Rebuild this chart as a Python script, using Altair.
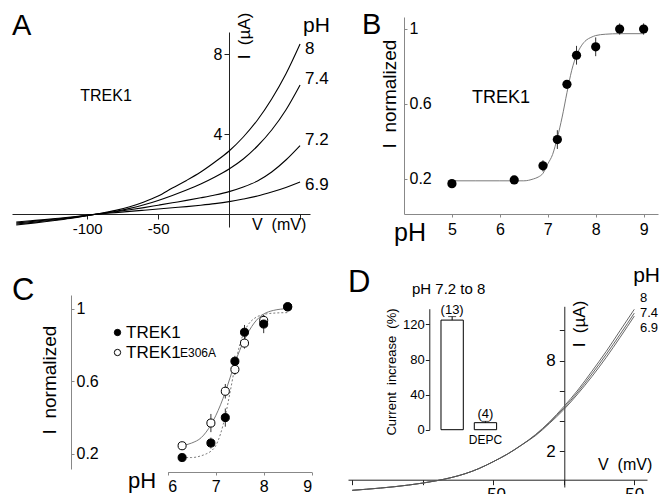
import altair as alt
import pandas as pd

FONT = "Liberation Sans"
W, H = 653, 486
DY = 3  # small upward shift so the bottom labels stay inside the page
NB = "\u00a0"

# ---------------- data ----------------
# Panel A : I-V curves of TREK1 at four external pH values
A_V = [-150, -140, -130, -120, -110, -100, -90, -80, -70, -60, -50,
       -40, -30, -20, -10, 0, 10, 20, 30, 40, 50]
A_I_8 = [-0.55, -0.47, -0.39, -0.30, -0.20, -0.08, 0.04, 0.18, 0.36, 0.60, 0.90,
         1.30, 1.68, 2.10, 2.60, 3.15, 3.85, 4.70, 5.75, 7.00, 8.50]
A_I_74 = [-0.50, -0.43, -0.35, -0.27, -0.18, -0.07, 0.03, 0.14, 0.28, 0.46, 0.68,
          0.93, 1.20, 1.50, 1.85, 2.25, 2.75, 3.40, 4.20, 5.20, 6.45]
A_I_72 = [-0.45, -0.38, -0.31, -0.24, -0.16, -0.07, 0.02, 0.11, 0.21, 0.32, 0.44,
          0.56, 0.68, 0.81, 0.95, 1.12, 1.35, 1.65, 2.10, 2.70, 3.42]
A_I_69 = [-0.40, -0.34, -0.28, -0.21, -0.14, -0.06, 0.01, 0.07, 0.13, 0.19, 0.25,
          0.31, 0.37, 0.44, 0.52, 0.62, 0.75, 0.90, 1.10, 1.33, 1.60]
A_labels = ["8", "7.4", "7.2", "6.9"]

# Panel B : normalized current vs pH
B_pH = [5.0, 6.3, 6.9, 7.2, 7.4, 7.6, 8.0, 8.5, 9.0]
B_I = [0.175, 0.195, 0.27, 0.41, 0.705, 0.86, 0.905, 1.0, 1.0]
B_err = [0.01, 0.01, 0.03, 0.05, 0.02, 0.05, 0.05, 0.03, 0.03]
B_fit_pH = [5.0, 5.5, 6.0, 6.3, 6.5, 6.7, 6.8, 6.9, 7.0, 7.1, 7.2, 7.3, 7.4,
            7.5, 7.6, 7.7, 7.8, 7.9, 8.0, 8.2, 8.5, 9.0]
B_fit_I = [0.19, 0.19, 0.19, 0.19, 0.19, 0.20, 0.21, 0.23, 0.28, 0.33, 0.42, 0.53,
           0.66, 0.78, 0.86, 0.91, 0.94, 0.955, 0.965, 0.972, 0.975, 0.975]

# Panel C : TREK1 vs TREK1 E306A
C_pH = [6.3, 6.9, 7.2, 7.4, 7.6, 8.0, 8.5]
C_wt = [0.18, 0.26, 0.40, 0.71, 0.87, 0.915, 1.01]
C_wt_err = [0.02, 0.03, 0.05, 0.03, 0.04, 0.05, 0.02]
C_mut = [0.245, 0.37, 0.545, 0.665, 0.81, 0.935, 1.01]
C_mut_err = [0.02, 0.05, 0.04, 0.03, 0.03, 0.03, 0.02]
C_fit_pH = [6.3, 6.5, 6.7, 6.8, 6.9, 7.0, 7.1, 7.2, 7.3, 7.4, 7.5, 7.6, 7.7,
            7.8, 7.9, 8.0, 8.2, 8.5]
C_fit_mut = [0.245, 0.26, 0.29, 0.32, 0.36, 0.41, 0.47, 0.54, 0.62, 0.70, 0.77,
             0.83, 0.88, 0.92, 0.95, 0.97, 0.99, 1.0]
C_fit_wt = [0.18, 0.18, 0.19, 0.20, 0.215, 0.245, 0.31, 0.41, 0.54, 0.68, 0.80,
            0.875, 0.92, 0.945, 0.96, 0.968, 0.975, 0.978]
C_series = ["TREK1", "TREK1E306A"]

# Panel D : E306A I-V curves
D_V = A_V
D_I_8 = [-0.60, -0.53, -0.45, -0.36, -0.25, -0.12, 0.04, 0.24, 0.50, 0.85, 1.30,
         1.80, 2.40, 3.10, 3.95, 4.95, 6.05, 7.30, 8.60, 10.00, 11.40]
D_I_74 = [-0.60, -0.53, -0.45, -0.36, -0.25, -0.12, 0.04, 0.24, 0.50, 0.85, 1.30,
          1.80, 2.40, 3.07, 3.90, 4.85, 5.92, 7.12, 8.40, 9.75, 11.15]
D_I_69 = [-0.60, -0.53, -0.45, -0.36, -0.25, -0.12, 0.04, 0.24, 0.50, 0.85, 1.30,
          1.80, 2.40, 3.03, 3.85, 4.75, 5.80, 6.95, 8.20, 9.55, 10.95]
D_labels = ["8", "7.4", "6.9"]

# Panel D inset : current increase pH 7.2 -> 8
IN_cat = ["control", "DEPC"]
IN_val = [125, 8]
IN_err = [4, 1.5]
IN_n = ["(13)", "(4)"]


# ---------------- helpers ----------------
def long_df(xs, series, xname, yname):
    rows = []
    for key, ys in series.items():
        for x, y in zip(xs, ys):
            rows.append({xname: x, yname: y, "s": key})
    return pd.DataFrame(rows)


def sc(domain, rng):
    return alt.Scale(domain=domain, range=rng, nice=False, zero=False)


def yr(a, b):
    return [a - DY, b - DY]


def ax(orient, offset, values, color="#222", **kw):
    base = dict(orient=orient, offset=offset, values=values, title=None, grid=False,
                labelFont=FONT, labelColor="black", tickColor=color, domainColor=color,
                labelFontSize=15, tickSize=5, labelPadding=2, domainWidth=1, tickWidth=1,
                labelOverlap=False)
    base.update(kw)
    return alt.Axis(**base)


def bottom_off(y):
    return (y - DY) - H


one = pd.DataFrame({"k": [0]})


def txt(s, x, y, size, align="left", baseline="alphabetic", angle=0):
    return alt.Chart(one).mark_text(
        text=s, fontSize=size, align=align, baseline=baseline, angle=angle,
        font=FONT, color="black"
    ).encode(x=alt.value(x), y=alt.value(y - DY))


NUM = "'' + datum.value"

# ---------------- panel A ----------------
dfA = long_df(A_V, dict(zip(A_labels, [A_I_8, A_I_74, A_I_72, A_I_69])), "V", "I")
xA = alt.X("V:Q", scale=sc([-153, 57], [4, 302]),
           axis=ax("bottom", bottom_off(209), [-100, -50, 50],
                   labelExpr="datum.value == 50 ? '' : '' + datum.value"))
yA = alt.Y("I:Q", scale=sc([-0.65, 9.1], yr(222, 27)),
           axis=ax("left", -221, [4, 8], labelFontSize=16))
panelA = alt.Chart(dfA).mark_line(color="black", strokeWidth=1.1,
                                  interpolate="monotone").encode(x=xA, y=yA, detail="s:N")

# ---------------- panel B ----------------
dfB = pd.DataFrame({"pH": B_pH, "I": B_I, "lo": [v - e for v, e in zip(B_I, B_err)],
                    "hi": [v + e for v, e in zip(B_I, B_err)]})
dfBfit = pd.DataFrame({"pH": B_fit_pH, "I": B_fit_I})
xB = alt.X("pH:Q", scale=sc([4.0, 9.3], [396, 650]),
           axis=ax("bottom", bottom_off(209), [5, 6, 7, 8, 9], color="#888", tickSize=3,
                   labelPadding=4, labelFontSize=16, labelExpr=NUM))
yB = alt.Y("I:Q", scale=sc([0.013, 1.064], yr(209, 12)),
           axis=ax("right", 396 - W, [0.2, 0.6, 1], color="#888", tickSize=3,
                   labelPadding=2, labelFontSize=16, labelExpr=NUM))
B_line = alt.Chart(dfBfit).mark_line(color="#7a7a7a", strokeWidth=1,
                                     interpolate="monotone").encode(x=xB, y=yB)
B_err_l = alt.Chart(dfB).mark_rule(color="#333", strokeWidth=1).encode(
    x="pH:Q", y="lo:Q", y2="hi:Q")
B_pts = alt.Chart(dfB).mark_circle(size=85, color="black", opacity=1).encode(x="pH:Q", y="I:Q")
panelB = alt.layer(B_line, B_err_l, B_pts)

# ---------------- panel C ----------------
rowsC = []
for ser, vals, errs in [(C_series[1], C_mut, C_mut_err), (C_series[0], C_wt, C_wt_err)]:
    for p, v, e in zip(C_pH, vals, errs):
        rowsC.append({"pH": p, "I": v, "lo": v - e, "hi": v + e, "series": ser})
dfC = pd.DataFrame(rowsC)
dfCfit = long_df(C_fit_pH, {"mut": C_fit_mut, "wt": C_fit_wt}, "pH", "I")
xC = alt.X("pH:Q", scale=sc([6, 9], [159.7, 303.7]),
           axis=ax("bottom", bottom_off(467), [6, 7, 8, 9], color="#888", tickSize=3,
                   labelPadding=3, labelFontSize=16, labelExpr=NUM))
yC = alt.Y("I:Q", scale=sc([0.117, 1.075], yr(464, 290)),
           axis=ax("right", 63 - W, [0.2, 0.6, 1], color="#888", tickSize=3,
                   labelPadding=2, labelFontSize=16, labelExpr=NUM))
C_mut_line = alt.Chart(dfCfit).transform_filter("datum.s == 'mut'").mark_line(
    color="#7a7a7a", strokeWidth=1, interpolate="monotone").encode(x=xC, y=yC)
C_wt_line = alt.Chart(dfCfit).transform_filter("datum.s == 'wt'").mark_line(
    color="#7a7a7a", strokeWidth=1, strokeDash=[2, 2], interpolate="monotone").encode(
    x="pH:Q", y="I:Q")
C_err_l = alt.Chart(dfC).mark_rule(color="#333", strokeWidth=1).encode(
    x="pH:Q", y="lo:Q", y2="hi:Q")
C_pts = alt.Chart(dfC).mark_circle(size=65, stroke="black", strokeWidth=1, opacity=1).encode(
    x="pH:Q", y="I:Q",
    fill=alt.Fill("series:N", sort=C_series,
                  scale=alt.Scale(domain=C_series, range=["black", "white"]),
                  legend=alt.Legend(title=None, orient="none", legendX=101, legendY=319 - DY,
                                    symbolType="circle", symbolSize=40,
                                    symbolStrokeColor="black", symbolStrokeWidth=1,
                                    labelFont=FONT, labelFontSize=17, labelColor="black",
                                    labelOffset=0, rowPadding=2, padding=0,
                                    labelExpr="datum.label == 'TREK1E306A' ? 'TREK1' : datum.label")))
panelC = alt.layer(C_mut_line, C_wt_line, C_err_l, C_pts)

# ---------------- panel D (main) ----------------
dfD = long_df(D_V, dict(zip(D_labels, [D_I_8, D_I_74, D_I_69])), "V", "I")
xD = alt.X("V:Q", scale=sc([-153, 59], [340, 639]),
           axis=ax("bottom", bottom_off(474.7), [-150, -100, -50, 0, 50], labelFontSize=17,
                   labelExpr="datum.value == -50 || datum.value == 50 ? '' + datum.value : ''"))
yD = alt.Y("I:Q", scale=sc([-0.38, 11.6], yr(482, 301.3)),
           axis=ax("left", -556.3, [2, 4, 6, 8, 10], labelFontSize=17, labelPadding=4,
                   labelExpr="datum.value == 2 || datum.value == 8 ? datum.label : ''"))
panelD = alt.Chart(dfD).mark_line(color="#555", strokeWidth=0.9,
                                  interpolate="monotone").encode(x=xD, y=yD, detail="s:N")

# ---------------- panel D (inset bars) ----------------
dfIn = pd.DataFrame({"cat": IN_cat, "val": IN_val,
                     "hi": [v + e for v, e in zip(IN_val, IN_err)], "n": IN_n})
xIn = alt.X("cat:N", sort=IN_cat,
            scale=alt.Scale(domain=IN_cat, range=[422, 499.6], paddingInner=0.33,
                            paddingOuter=0.33), axis=None)
yIn = alt.Y("val:Q", scale=sc([0, 138], yr(424.7, 303.7)),
            axis=ax("left", -421.3, [0, 40, 80, 120], labelFontSize=13, tickSize=4,
                    labelPadding=1))
In_bars = alt.Chart(dfIn).mark_bar(fill="white", stroke="black", strokeWidth=1).encode(x=xIn, y=yIn)
In_err = alt.Chart(dfIn).mark_rule(color="black", strokeWidth=1).encode(
    x="cat:N", y="val:Q", y2="hi:Q")
In_cap = alt.Chart(dfIn).mark_tick(color="black", thickness=1, size=8,
                                   orient="horizontal").encode(x="cat:N", y="hi:Q")
In_n = alt.Chart(dfIn).mark_text(font=FONT, fontSize=13, dy=-3, baseline="alphabetic",
                                 color="black").encode(x="cat:N", y="hi:Q", text="n:N")
In_depc = alt.Chart(one).mark_text(text="DEPC", font=FONT, fontSize=12, dy=14,
                                   baseline="alphabetic", color="black").encode(
    x=alt.datum("DEPC"), y=alt.datum(0))
panelIn = alt.layer(In_bars, In_err, In_cap, In_n, In_depc)

# ---------------- annotations ----------------
texts = [
    # A
    txt("A", 4, 30, 29),
    txt("TREK1", 98, 96, 16, align="center"),
    txt("pH", 295, 27, 21),
    txt("8", 297, 44, 17, baseline="middle"),
    txt("7.4", 297, 74, 17, baseline="middle"),
    txt("7.2", 297, 135, 17, baseline="middle"),
    txt("6.9", 297, 180, 17, baseline="middle"),
    txt("I" + NB + NB + "(\u00b5A)", 237, 31, 17, align="center", baseline="middle", angle=270),
    txt("V" + NB + NB + "(mV)", 244, 225, 16),
    # B
    txt("B", 354, 29, 29),
    txt("I" + NB + NB + "normalized", 382, 89, 19, align="center", baseline="middle", angle=270),
    txt("pH", 402, 236, 25, align="center"),
    txt("TREK1", 493, 98, 18, align="center"),
    # C
    txt("C", 4, 295, 31),
    txt("I" + NB + NB + "normalized", 42, 375, 19, align="center", baseline="middle", angle=270),
    txt("pH", 134, 483, 22, align="center"),
    txt("E306A", 172, 352, 12),
    # D
    txt("D", 340, 287, 31),
    txt("pH 7.2 to 8", 404, 289, 15),
    txt("Current" + NB + NB + "increase" + NB + NB + "(%)", 384, 367, 13,
        align="center", baseline="middle", angle=270),
    txt("pH", 652, 277, 21, align="right"),
    txt("8", 632, 297, 13),
    txt("7.4", 632, 312, 13),
    txt("6.9", 632, 327, 13),
    txt("I" + NB + NB + "(\u00b5A)", 572, 319, 17, align="center", baseline="middle", angle=270),
    txt("V" + NB + NB + "(mV)", 590, 465, 16),
]

chart = alt.layer(panelA, panelB, panelC, panelD, panelIn, *texts).resolve_scale(
    x="independent", y="independent", fill="independent"
).resolve_axis(
    x="independent", y="independent"
).properties(
    width=W, height=H, autosize=alt.AutoSizeParams(type="none"), padding=0,
    background="white"
).configure_view(stroke=None)

chart.save("out.html", embed_options={"renderer": "svg", "actions": False})
